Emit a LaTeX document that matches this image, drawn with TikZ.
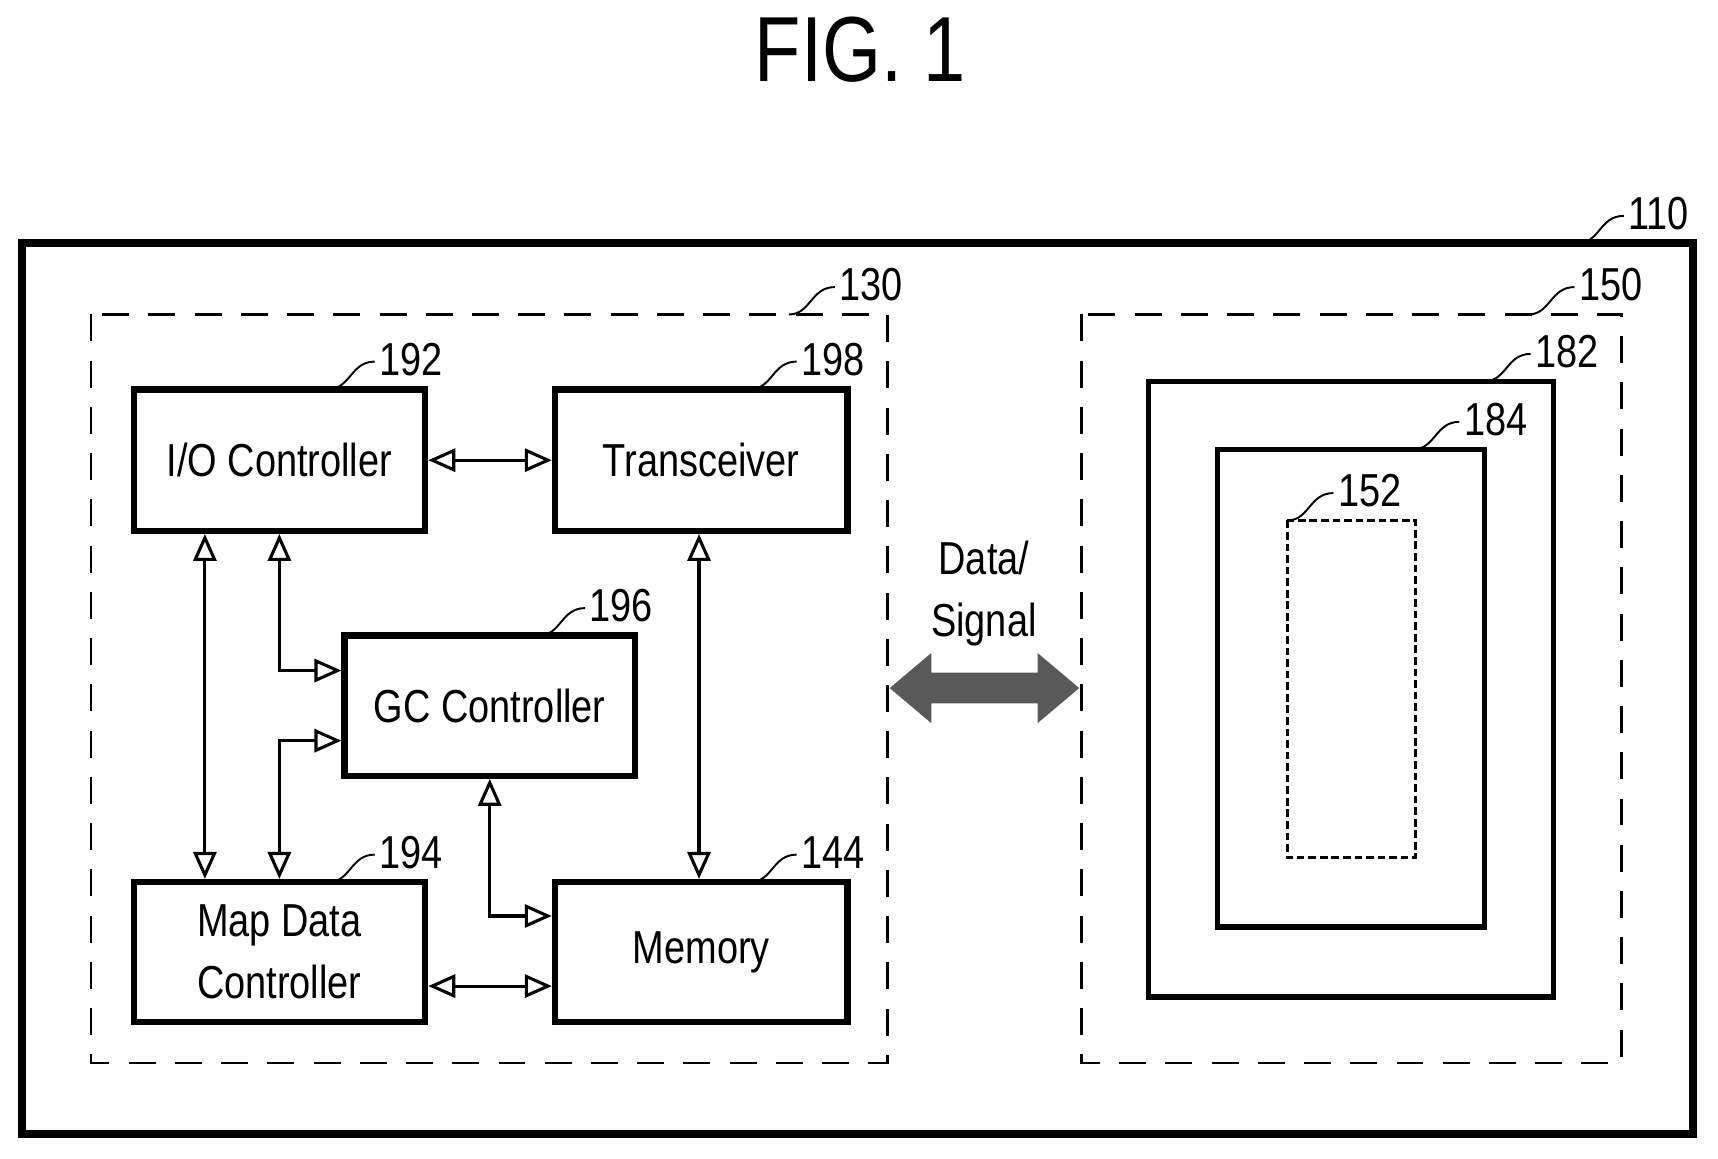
\documentclass[tikz,border=0pt]{standalone}
\usepackage{fontspec}
\setmainfont[FakeStretch=0.82]{Liberation Sans}
\usetikzlibrary{arrows.meta}
\begin{document}
\begin{tikzpicture}[x=0.01cm,y=-0.01cm,
 blk/.style={draw,line width=1.6pt,align=center,font=\fontsize{12}{16}\selectfont},
 lbl/.style={font=\fontsize{12}{14}\selectfont,anchor=west,inner sep=1pt},
 ar/.style={line width=0.8pt,{Triangle[open,length=7pt,width=6pt]}-{Triangle[open,length=7pt,width=6pt]}},
 dsh/.style={draw,dashed,dash pattern=on 7pt off 5pt,line width=0.6pt}]
\useasboundingbox (0,0) rectangle (1568,1057);
\node[font=\fontsize{24}{28}\selectfont] (t) at (785,45) {FIG. 1};
% containers
\draw[line width=2pt] (20,222) rectangle (1545,1035);
\draw[dsh] (83,287) rectangle (810,970);
\draw[dsh] (987,287) rectangle (1480,970);
\draw[line width=1.4pt] (1048,348) rectangle (1418,910);
\draw[line width=1.4pt] (1111,410) rectangle (1355,846);
\draw[line width=0.8pt,dash pattern=on 2pt off 1pt] (1175,475) rectangle (1292,783);
% blocks
\node[blk,minimum width=2.66cm,minimum height=1.29cm] (io) at (255,420) {I/O Controller};
\node[blk,minimum width=2.67cm,minimum height=1.29cm] (tr) at (640,420) {Transceiver};
\node[blk,minimum width=2.65cm,minimum height=1.28cm] (gc) at (447,644) {GC Controller};
\node[blk,minimum width=2.66cm,minimum height=1.28cm] (md) at (255,869) {Map Data\\Controller};
\node[blk,minimum width=2.67cm,minimum height=1.28cm] (me) at (640,869) {Memory};
% connectors
\draw[ar] (io.east) -- (tr.west);
\draw[ar] (io.south -| 187,0) -- (md.north -| 187,0);
\draw[ar] (io.south -| 255,0) |- (gc.west |- 0,612);
\draw[ar] (md.north -| 255,0) |- (gc.west |- 0,676);
\draw[ar] (gc.south) |- (me.west |- 0,836);
\draw[ar] (tr.south -| 638,0) -- (me.north -| 638,0);
\draw[ar] (md.east |- 0,900) -- (me.west |- 0,900);
% big arrow
\fill[gray!70!black] (812,628) -- (850,596) -- (850,614) -- (947,614) -- (947,596) -- (985,628) -- (947,660) -- (947,642) -- (850,642) -- (850,660) -- cycle;
\node[align=center,font=\fontsize{12}{16}\selectfont] (ds) at (898,542) {Data/\\Signal};
% reference labels
\foreach \x/\y/\t in {1480/222/110,760/287/130,1435/287/150,1395/348/182,1330/410/184,1215/475/152,340/355/192,725/355/198,532/580/196,340/805/194,725/805/144}{
  \draw[line width=0.5pt] (\x-40,\y) .. controls (\x-20,\y) and (\x-20,\y-25) .. (\x+2,\y-25);
  \node[lbl] at (\x+2,\y-27) {\t};
}
\end{tikzpicture}
\end{document}
